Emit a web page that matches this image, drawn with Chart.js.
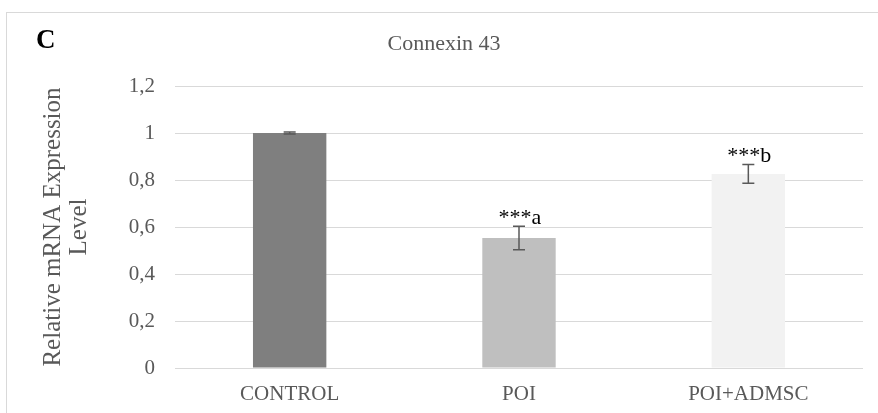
<!DOCTYPE html>
<html>
<head>
<meta charset="utf-8">
<script src="https://cdn.jsdelivr.net/npm/chart.js@4.4.0/dist/chart.umd.min.js"></script>
<style>
  html, body { margin: 0; padding: 0; background: #ffffff; }
  #wrap { width: 878px; height: 413px; position: relative; }
</style>
</head>
<body>
<div id="wrap"><canvas id="chart" width="878" height="413"></canvas></div>
<script>
// Relative Connexin 43 mRNA expression per group
const categories = ['CONTROL', 'POI', 'POI+ADMSC'];
const meanExpression = [1.0, 0.553, 0.826];
const errorValues = [0.004, 0.05, 0.04];
const significanceLabels = ['', '***a', '***b'];
const yTickLabels = ['0', '0,2', '0,4', '0,6', '0,8', '1', '1,2'];

const SERIF = '"Liberation Serif", "Times New Roman", serif';
const GREY_TEXT = '#595959';

// Frame, panel letter and chart title
const framePlugin = {
  id: 'frame',
  beforeDraw(chart) {
    const ctx = chart.ctx;
    ctx.save();
    ctx.fillStyle = '#ffffff';
    ctx.fillRect(0, 0, chart.width, chart.height);
    ctx.strokeStyle = '#d9d9d9';
    ctx.lineWidth = 1;
    ctx.strokeRect(6.5, 12.5, chart.width + 10, chart.height + 10);
    ctx.restore();
  },
  afterDraw(chart) {
    const ctx = chart.ctx;
    ctx.save();
    ctx.textBaseline = 'alphabetic';
    ctx.fillStyle = '#000000';
    ctx.font = 'bold 27px ' + SERIF;
    ctx.textAlign = 'left';
    ctx.fillText('C', 36, 48);
    ctx.fillStyle = GREY_TEXT;
    ctx.font = '22px ' + SERIF;
    ctx.textAlign = 'center';
    ctx.fillText('Connexin 43', 444, 50);
    ctx.restore();
  }
};

// Error bars with caps, plus significance marks above them
const errorBarPlugin = {
  id: 'errorBars',
  afterDatasetsDraw(chart) {
    const ctx = chart.ctx;
    const y = chart.scales.y;
    const meta = chart.getDatasetMeta(0);
    ctx.save();
    meta.data.forEach((bar, i) => {
      const v = meanExpression[i];
      const e = errorValues[i];
      const x = bar.x;
      const yTop = y.getPixelForValue(v + e);
      const yBot = y.getPixelForValue(v - e);
      const half = 6;
      ctx.strokeStyle = '#595959';
      ctx.lineWidth = 1.5;
      ctx.beginPath();
      ctx.moveTo(x, yTop); ctx.lineTo(x, yBot);
      ctx.moveTo(x - half, yTop); ctx.lineTo(x + half, yTop);
      ctx.moveTo(x - half, yBot); ctx.lineTo(x + half, yBot);
      ctx.stroke();
      if (significanceLabels[i]) {
        ctx.fillStyle = '#000000';
        ctx.font = '22px ' + SERIF;
        ctx.textAlign = 'center';
        ctx.textBaseline = 'alphabetic';
        ctx.fillText(significanceLabels[i], x + 1, yTop - 2);
      }
    });
    ctx.restore();
  }
};

new Chart(document.getElementById('chart'), {
  type: 'bar',
  data: {
    labels: categories,
    datasets: [{
      data: meanExpression,
      backgroundColor: ['#7f7f7f', '#bfbfbf', '#f2f2f2'],
      borderWidth: 0,
      categoryPercentage: 1.0,
      barPercentage: 0.32
    }]
  },
  options: {
    responsive: false,
    animation: false,
    devicePixelRatio: 1,
    layout: { padding: { left: 0, right: 15, top: 86, bottom: 0 } },
    plugins: {
      legend: { display: false },
      tooltip: { enabled: false }
    },
    scales: {
      x: {
        grid: { display: false, drawTicks: false },
        border: { display: false },
        ticks: {
          color: GREY_TEXT,
          font: { family: SERIF, size: 21 },
          padding: 14,
          maxRotation: 0
        },
        afterFit(scale) { scale.height = 45; }
      },
      y: {
        min: 0,
        max: 1.2,
        grid: { color: '#d9d9d9', lineWidth: 1, drawTicks: false },
        border: { display: false },
        ticks: {
          stepSize: 0.2,
          color: GREY_TEXT,
          font: { family: SERIF, size: 21 },
          padding: 20,
          callback: (value) => yTickLabels[Math.round(value / 0.2)]
        },
        title: {
          display: true,
          text: ['Relative mRNA Expression', 'Level'],
          color: GREY_TEXT,
          font: { family: SERIF, size: 25, lineHeight: 1.06 },
          padding: { top: 40, bottom: 0 }
        },
        afterFit(scale) { scale.width = 175; }
      }
    }
  },
  plugins: [framePlugin, errorBarPlugin]
});
</script>
</body>
</html>
